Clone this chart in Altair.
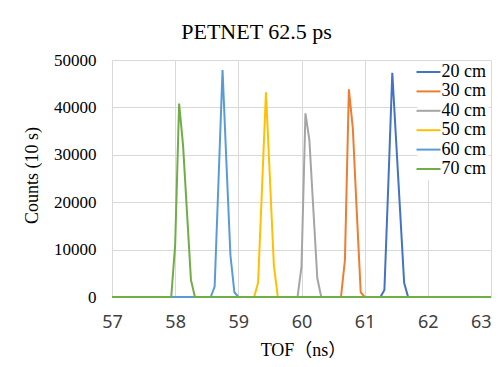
import altair as alt
import pandas as pd

series = ["20 cm", "30 cm", "40 cm", "50 cm", "60 cm", "70 cm"]
colors = ["#4472C4", "#ED7D31", "#A5A5A5", "#FFC000", "#5B9BD5", "#70AD47"]

tof_20 = [57.0, 61.25, 61.3125, 61.375, 61.4375, 61.5, 61.5625, 61.625, 61.6875, 63.0]
cnt_20 = [0, 0, 1500, 24000, 47300, 32500, 17800, 3000, 0, 0]

tof_30 = [57.0, 60.625, 60.6875, 60.75, 60.8125, 60.875, 60.9375, 61.0, 63.0]
cnt_30 = [0, 0, 7800, 43800, 35600, 18000, 1000, 0, 0]

tof_40 = [57.0, 59.9375, 60.0, 60.0625, 60.125, 60.1875, 60.25, 60.3125, 63.0]
cnt_40 = [0, 0, 6400, 38750, 33100, 18500, 4000, 0, 0]

tof_50 = [57.0, 59.25, 59.3125, 59.375, 59.4375, 59.5, 59.5625, 59.625, 63.0]
cnt_50 = [0, 0, 3000, 23000, 43200, 25000, 6700, 0, 0]

tof_60 = [57.0, 58.5625, 58.625, 58.6875, 58.75, 58.8125, 58.875, 58.9375, 59.0, 63.0]
cnt_60 = [0, 0, 2200, 25000, 47900, 28000, 8800, 1000, 0, 0]

tof_70 = [57.0, 57.9375, 58.0, 58.0625, 58.125, 58.1875, 58.25, 58.3125, 63.0]
cnt_70 = [0, 0, 11000, 40800, 32000, 17800, 3600, 0, 0]

x_ticks = [57, 58, 59, 60, 61, 62, 63]
y_ticks = [0, 10000, 20000, 30000, 40000, 50000]

rows = []
for name, xs, ys in zip(series,
                        [tof_20, tof_30, tof_40, tof_50, tof_60, tof_70],
                        [cnt_20, cnt_30, cnt_40, cnt_50, cnt_60, cnt_70]):
    for xv, yv in zip(xs, ys):
        rows.append({"series": name, "tof": xv, "count": yv})
df = pd.DataFrame(rows)

serif = "Liberation Serif, Noto Sans CJK SC"

chart = alt.Chart(df).mark_line(strokeWidth=2).encode(
    x=alt.X("tof:Q",
            scale=alt.Scale(domain=[57, 63], nice=False, zero=False),
            axis=alt.Axis(title="TOF（ns）", values=x_ticks, format="d",
                          labelFont="Noto Sans", labelFontSize=18, labelColor="#404040",
                          labelPadding=16, labelFlush=False,
                          labelAlign={"condition": {"test": "datum.value == 63", "value": "right"},
                                      "value": "center"},
                          ticks=False, tickSize=0,
                          domain=False, gridColor="#D9D9D9", gridWidth=1,
                          titleFont=serif, titleFontSize=18, titleFontWeight="normal",
                          titleColor="black", titleBaseline="alphabetic",
                          titleX=191, titleY=58, titleAlign="center")),
    y=alt.Y("count:Q",
            scale=alt.Scale(domain=[0, 50000], nice=False),
            axis=alt.Axis(title="Counts (10 s)", values=y_ticks, format="d",
                          labelFont=serif, labelFontSize=17, labelColor="black",
                          labelPadding=16, ticks=False, tickSize=0, domain=False,
                          gridColor="#D9D9D9", gridWidth=1,
                          titleFont=serif, titleFontSize=18, titleFontWeight="normal",
                          titleColor="black", titleBaseline="alphabetic",
                          titleX=-75, titleY=115, titleAlign="center")),
    color=alt.Color("series:N",
                    scale=alt.Scale(domain=series, range=colors),
                    legend=alt.Legend(title=None, orient="none", legendX=305.5, legendY=1,
                                      symbolType="M-2,0H2", symbolSize=144,
                                      symbolStrokeWidth=2,
                                      labelFont=serif, labelFontSize=18, labelColor="black",
                                      labelOffset=4, rowPadding=1.4, padding=2,
                                      fillColor="white")),
).properties(
    width=379,
    height=237,
    title=alt.Title("PETNET 62.5 ps", font=serif, fontSize=22, fontWeight="normal",
                    color="black", anchor="middle", frame="group", dx=-45, dy=30,
                    baseline="alphabetic", offset=20),
    autosize=alt.AutoSizeParams(type="none"),
    padding={"left": 104, "top": 52, "right": 1, "bottom": 62},
).configure_view(stroke=None)

chart.save("out.html", embed_options={"renderer": "svg", "actions": False})
